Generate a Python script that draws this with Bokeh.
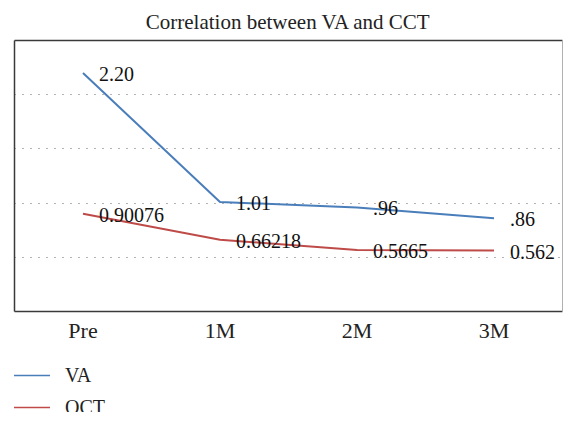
from bokeh.plotting import figure
from bokeh.layouts import column
from bokeh.models import (ColumnDataSource, Legend, LegendItem, CategoricalAxis,
                          LinearAxis, FixedTicker, Range1d)
from bokeh.core.properties import value
from bokeh.embed import file_html
from bokeh.resources import INLINE

categories = ["Pre", "1M", "2M", "3M"]
va_values = [2.20, 1.01, 0.96, 0.86]
va_labels = ["2.20", "1.01", ".96", ".86"]
oct_values = [0.90076, 0.66218, 0.5665, 0.562]
oct_labels = ["0.90076", "0.66218", "0.5665", "0.562"]
series_names = ["VA", "OCT"]
grid_ticks = [0.5, 1.0, 1.5, 2.0]
title_text = "Correlation between VA and CCT"

FONT = "Liberation Serif"
BLUE = "#4a7ebb"
RED = "#be4b48"

p = figure(x_range=categories, y_range=Range1d(0, 2.5),
           width=574, height=345,
           output_backend="svg", toolbar_location=None,
           min_border_left=14, min_border_right=12, min_border_top=40, min_border_bottom=34)

p.title.text = title_text
p.title.align = "center"
p.title.text_font = FONT
p.title.text_font_size = "21px"
p.title.text_font_style = "normal"
p.title.text_color = "#222222"
p.title.standoff = 2
p.title.offset = 0

p.outline_line_color = None
p.background_fill_color = "white"
p.border_fill_color = "white"

yax = p.yaxis[0]
yax.ticker = FixedTicker(ticks=grid_ticks)
yax.major_tick_line_color = None
yax.minor_tick_line_color = None
yax.major_label_text_font_size = "0px"
yax.major_label_standoff = 0
yax.axis_line_color = "#3a3a3a"
yax.axis_line_width = 1.5

xax = p.xaxis[0]
xax.major_tick_line_color = None
xax.minor_tick_line_color = None
xax.axis_line_color = "#3a3a3a"
xax.axis_line_width = 1.5
xax.major_label_text_font = FONT
xax.major_label_text_font_size = "22px"
xax.major_label_text_color = "#222222"
xax.major_label_standoff = 0

top_ax = CategoricalAxis(major_tick_line_color=None, minor_tick_line_color=None,
                         major_label_text_font_size="0px", major_label_standoff=0,
                         axis_line_color="#3a3a3a", axis_line_width=1.5)
p.add_layout(top_ax, "above")
right_ax = LinearAxis(ticker=FixedTicker(ticks=grid_ticks), major_tick_line_color=None,
                      minor_tick_line_color=None, major_label_text_font_size="0px",
                      major_label_standoff=0, axis_line_color="#b0b0b0", axis_line_width=1)
p.add_layout(right_ax, "right")

p.xgrid.grid_line_color = None
p.ygrid.ticker = FixedTicker(ticks=grid_ticks)
p.ygrid.grid_line_color = "#666666"
p.ygrid.grid_line_width = 1
p.ygrid.grid_line_dash = "1 7"

src_va = ColumnDataSource(dict(x=categories, y=va_values, t=va_labels))
src_oct = ColumnDataSource(dict(x=categories, y=oct_values, t=oct_labels))

p.line("x", "y", source=src_va, line_color=BLUE, line_width=2)
p.line("x", "y", source=src_oct, line_color=RED, line_width=2)

for src in (src_va, src_oct):
    p.text("x", "y", text="t", source=src, x_offset=16, y_offset=1,
           text_baseline="middle", text_align="left", text_font=value(FONT),
           text_font_size="20px", text_color="#111111")

# legend strip below the chart (lines kept out of its view, only the legend shows)
p2 = figure(x_range=categories, y_range=Range1d(10, 11), width=574, height=67,
            output_backend="svg", toolbar_location=None,
            x_axis_location=None, y_axis_location=None,
            min_border_left=0, min_border_right=0, min_border_top=0, min_border_bottom=0)
p2.outline_line_color = None
p2.grid.visible = False
l_va = p2.line("x", "y", source=src_va, line_color=BLUE, line_width=1.5)
l_oct = p2.line("x", "y", source=src_oct, line_color=RED, line_width=1.5)

legend = Legend(items=[LegendItem(label=series_names[0], renderers=[l_va]),
                       LegendItem(label=series_names[1], renderers=[l_oct])],
                location=(-1, -7), orientation="vertical",
                border_line_color=None, background_fill_alpha=0,
                padding=0, margin=0, spacing=8, glyph_width=37, glyph_height=24,
                label_height=24, label_standoff=15,
                label_text_font=FONT, label_text_font_size="20px",
                label_text_color="#222222")
p2.add_layout(legend, "center")

layout = column(p, p2, spacing=0)
open("out.html", "w").write(file_html(layout, INLINE))
